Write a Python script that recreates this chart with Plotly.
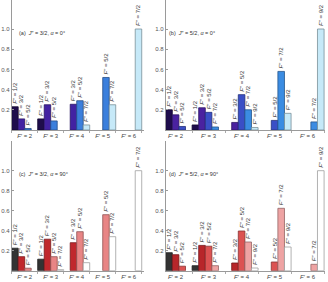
import plotly.graph_objects as go

# ---------------- data ----------------
FP = [2, 3, 4, 5, 6]                       # F' groups
FPP_32 = ["1/2", "3/2", "5/2", "7/2"]      # F'' series, J''=3/2
FPP_52 = ["1/2", "3/2", "5/2", "7/2", "9/2"]  # F'' series, J''=5/2

# rows = F'' series, columns = F' groups (None = no bar)
panel_a = [
    [0.23, 0.11, None, None, None],
    [0.11, 0.25, 0.255, None, None],
    [0.015, 0.09, 0.29, 0.52, None],
    [None, None, 0.05, 0.25, 1.0],
]
panel_b = [
    [0.20, 0.05, None, None, None],
    [0.15, 0.22, 0.075, None, None],
    [0.035, 0.175, 0.35, 0.095, None],
    [None, 0.03, 0.20, 0.58, 0.08],
    [None, None, 0.025, 0.165, 1.0],
]
panel_c = [
    [0.225, 0.115, None, None, None],
    [0.14, 0.315, 0.28, None, None],
    [0.025, 0.14, 0.39, 0.56, None],
    [None, 0.01, 0.08, 0.34, 1.0],
]
panel_d = [
    [0.18, 0.05, None, None, None],
    [0.16, 0.253, 0.077, None, None],
    [0.045, 0.245, 0.397, 0.087, None],
    [None, 0.05, 0.287, 0.624, 0.064],
    [None, None, 0.027, 0.237, 1.0],
]
Y_TICKS = [0.2, 0.4, 0.6, 0.8, 1.0]

TITLES = [
    "(a)  <i>J</i>″ = 3/2, <i>α</i> = 0°",
    "(b)  <i>J</i>″ = 5/2, <i>α</i> = 0°",
    "(c)  <i>J</i>″ = 3/2, <i>α</i> = 90°",
    "(d)  <i>J</i>″ = 5/2, <i>α</i> = 90°",
]

COL_A = ["#1f0d4c", "#4222a2", "#3b7fdc", "#c6e9f8"]
COL_B = ["#1f0d4c", "#4a22a0", "#3a4fc6", "#3b8ce2", "#c6e9f8"]
COL_C = ["#333333", "#c0282d", "#e88585", "#ffffff"]
COL_D = ["#333333", "#b8262a", "#dc5252", "#eea3a3", "#ffffff"]

W_PX, H_PX = 328, 282
FONT = "Liberation Sans"


def darken(h, f=0.62):
    h = h.lstrip("#")
    r, g, b = (int(h[i:i + 2], 16) for i in (0, 2, 4))
    return "#%02x%02x%02x" % (int(r * f), int(g * f), int(b * f))


# layout of each panel (pixel boxes)
panels = [
    dict(vals=panel_a, fpp=FPP_32, cols=COL_A, W=4, s0=0, lead=0,
         xpx=(11.7, 144), xmax=20.35, ypx=(0, 130), yunit=101, tpos=(17, 33)),
    dict(vals=panel_b, fpp=FPP_52, cols=COL_B, W=5, s0=-1, lead=1,
         xpx=(165.7, 325), xmax=24.14, ypx=(0, 130), yunit=101, tpos=(167, 33)),
    dict(vals=panel_c, fpp=FPP_32, cols=COL_C, W=4, s0=0, lead=0,
         xpx=(11.7, 144), xmax=20.35, ypx=(141, 270.7), yunit=100, tpos=(17, 174)),
    dict(vals=panel_d, fpp=FPP_52, cols=COL_D, W=5, s0=-1, lead=1,
         xpx=(165.7, 325), xmax=24.14, ypx=(141, 270.7), yunit=100, tpos=(167, 174)),
]

fig = go.Figure()
layout = dict(width=W_PX, height=H_PX, margin=dict(l=0, r=0, t=0, b=0),
              paper_bgcolor="white", plot_bgcolor="white", barmode="overlay",
              showlegend=False, annotations=[])

for i, p in enumerate(panels):
    n = "" if i == 0 else str(i + 1)
    xa, ya = "x" + n, "y" + n
    W, s0 = p["W"], p["s0"]
    for k, (lab, col) in enumerate(zip(p["fpp"], p["cols"])):
        xs, ys, ts = [], [], []
        for g, v in enumerate(p["vals"][k]):
            if v is None:
                continue
            slot = W * g + s0 + k + (p["lead"] if g == 0 else 0)
            xs.append(slot + 0.5)
            ys.append(v)
            ts.append("<i>F</i>″ = " + lab)
        fig.add_trace(go.Bar(
            x=xs, y=ys, width=1.0, xaxis=xa, yaxis=ya,
            marker=dict(color=col, line=dict(color=darken(col), width=0.8)),
            text=ts, textposition="outside", textangle=-90,
            constraintext="none", cliponaxis=False,
            textfont=dict(size=6, color="#333333", family=FONT),
            hoverinfo="skip", showlegend=False))

    centers = [W * g + s0 + W / 2 for g in range(len(FP))]
    bounds = [W * g + s0 for g in range(len(FP) + 1) if W * g + s0 >= 0]
    x0, x1 = p["xpx"]
    ytop, ybot = p["ypx"]
    layout["xaxis" + n] = dict(
        domain=[x0 / W_PX, x1 / W_PX], range=[0, p["xmax"]], anchor=ya,
        tickmode="array", tickvals=centers,
        ticktext=["<i>F</i>′ = %d" % f for f in FP],
        ticks="", showline=True, linecolor="#9a9a9a", linewidth=1,
        showgrid=False, zeroline=False,
        tickfont=dict(size=6, color="#444444", family=FONT),
        minor=dict(tickmode="array", tickvals=bounds, ticks="outside",
                   ticklen=2, tickcolor="#aaaaaa", showgrid=False))
    layout["yaxis" + n] = dict(
        domain=[1 - ybot / H_PX, 1 - ytop / H_PX],
        range=[0, (ybot - ytop) / p["yunit"]], anchor=xa,
        tickmode="array", tickvals=Y_TICKS,
        ticktext=["%.1f" % t for t in Y_TICKS],
        ticks="inside", ticklen=2, tickcolor="#9a9a9a",
        showline=True, linecolor="#9a9a9a", linewidth=1,
        showgrid=False, zeroline=False,
        tickfont=dict(size=6, color="#555555", family=FONT))
    tx, ty = p["tpos"]
    layout["annotations"].append(dict(
        text=TITLES[i], xref="paper", yref="paper",
        x=tx / W_PX, y=1 - ty / H_PX, xanchor="left", yanchor="middle",
        showarrow=False, font=dict(size=5.5, color="#333333", family=FONT)))

fig.update_layout(**layout)
fig.write_html("out.html", config={"displayModeBar": False},
               post_script="document.body.style.margin='0';document.body.style.overflow='hidden';")
